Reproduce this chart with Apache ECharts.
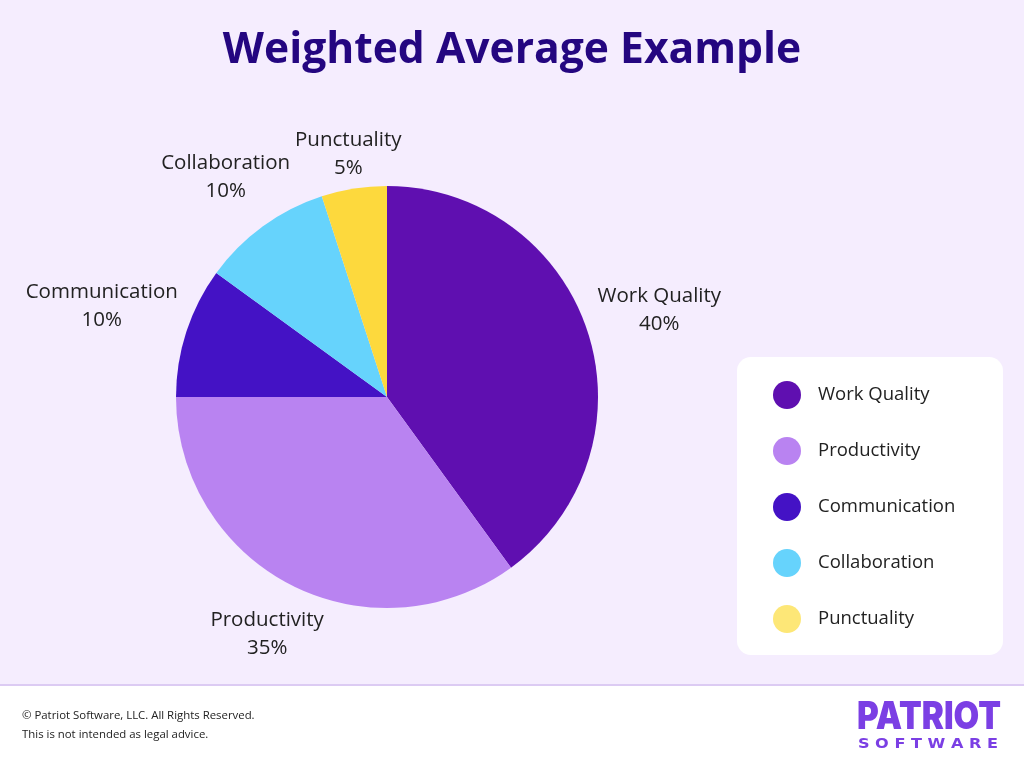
<!DOCTYPE html>
<html><head><meta charset="utf-8">
<script src="https://cdn.jsdelivr.net/npm/echarts@6/dist/echarts.min.js"></script>
<style>html,body{margin:0;padding:0;background:#fff}#c{width:1024px;height:768px}</style>
</head><body><div id="c"></div>
<script>
const categories = ['Work Quality', 'Productivity', 'Communication', 'Collaboration', 'Punctuality'];
const weights = [40, 35, 10, 10, 5];
const sliceColors = ['#5f0fb0', '#b983f1', '#4412c5', '#66d3fc', '#fdd93d'];
const legendColors = ['#5f0fb0', '#b983f1', '#4412c5', '#66d3fc', '#fde777'];
const titleText = 'Weighted Average Example';
const footerLines = ['© Patriot Software, LLC. All Rights Reserved.', 'This is not intended as legal advice.'];

const CX = 387, CY = 397, R = 211, GAP = 9;
const total = weights.reduce((a, b) => a + b, 0);

// distance from pie centre to the nearest point of a box of half-size hw x hh centred at (bx, by)
function boxDist(bx, by, hw, hh) {
  const dx = Math.max(Math.abs(bx) - hw, 0), dy = Math.max(Math.abs(by) - hh, 0);
  return Math.hypot(dx, dy);
}

function layoutLabel(params) {
  const i = params.dataIndex;
  let before = 0;
  for (let k = 0; k < i; k++) before += weights[k];
  const mid = (before + weights[i] / 2) / total * 2 * Math.PI;
  const s = Math.sin(mid), c = Math.cos(mid);
  const hw = params.labelRect.width / 2, hh = params.labelRect.height / 2;
  let lo = R, hi = R + 400;
  for (let n = 0; n < 40; n++) {
    const m = (lo + hi) / 2;
    if (boxDist(m * s, m * c, hw, hh) < R + GAP) lo = m; else hi = m;
  }
  const d = (lo + hi) / 2;
  return { x: CX + d * s, y: CY - d * c + 2, align: 'center', verticalAlign: 'middle' };
}

const chart = echarts.init(document.getElementById('c'), null, { renderer: 'canvas' });
chart.setOption({
  backgroundColor: '#f5edfe',
  animation: false,
  title: {
    text: titleText, left: 'center', top: 24,
    textStyle: { fontFamily: 'Open Sans', fontSize: 42.6, fontWeight: 'bold', color: '#240680' }
  },
  legend: {
    orient: 'vertical', left: 773, top: 381, padding: 0,
    icon: 'circle', itemWidth: 52, itemHeight: 28, itemGap: 28,
    textStyle: { fontFamily: 'Open Sans', fontSize: 18.5, color: '#222' },
    data: categories.map((n, i) => ({ name: n, itemStyle: { color: legendColors[i] } }))
  },
  graphic: [
    { type: 'rect', z: -10, shape: { x: 0, y: 686, width: 1024, height: 82 }, style: { fill: '#ffffff' } },
    { type: 'rect', z: -9, shape: { x: 0, y: 684, width: 1024, height: 2 }, style: { fill: '#dccbf3' } },
    { type: 'rect', z: -9, shape: { x: 737, y: 357, width: 266, height: 298, r: 14 }, style: { fill: '#ffffff' } },
    { type: 'text', x: 22, y: 716, style: { text: footerLines[0], font: '11.4px "Open Sans"', fill: '#222', verticalAlign: 'middle' } },
    { type: 'text', x: 22, y: 735, style: { text: footerLines[1], font: '11.4px "Open Sans"', fill: '#222', verticalAlign: 'middle' } },
    { type: 'text', x: 1001, y: 718, scaleX: 0.873, style: { text: 'PATRIOT', font: '900 38px "Inter"', fill: '#7b3fe4', align: 'right', verticalAlign: 'middle' } },
    { type: 'text', x: 998, y: 744, scaleX: 1.15, style: { text: 'S O F T W A R E', font: 'bold 14px "DejaVu Sans"', fill: '#7b3fe4', align: 'right', verticalAlign: 'middle' } }
  ],
  series: [{
    type: 'pie',
    center: [CX, CY],
    radius: R,
    startAngle: 90,
    clockwise: true,
    avoidLabelOverlap: false,
    data: categories.map((n, i) => ({ name: n, value: weights[i], itemStyle: { color: sliceColors[i] } })),
    label: {
      show: true, position: 'outside',
      formatter: p => '{n|' + p.name + '}\n{n|' + p.value + '%}',
      rich: { n: { fontFamily: 'Open Sans', fontSize: 20.5, lineHeight: 28, color: '#222', align: 'center' } }
    },
    labelLine: { show: false },
    labelLayout: layoutLabel,
    emphasis: { disabled: true }
  }]
});
</script></body></html>
